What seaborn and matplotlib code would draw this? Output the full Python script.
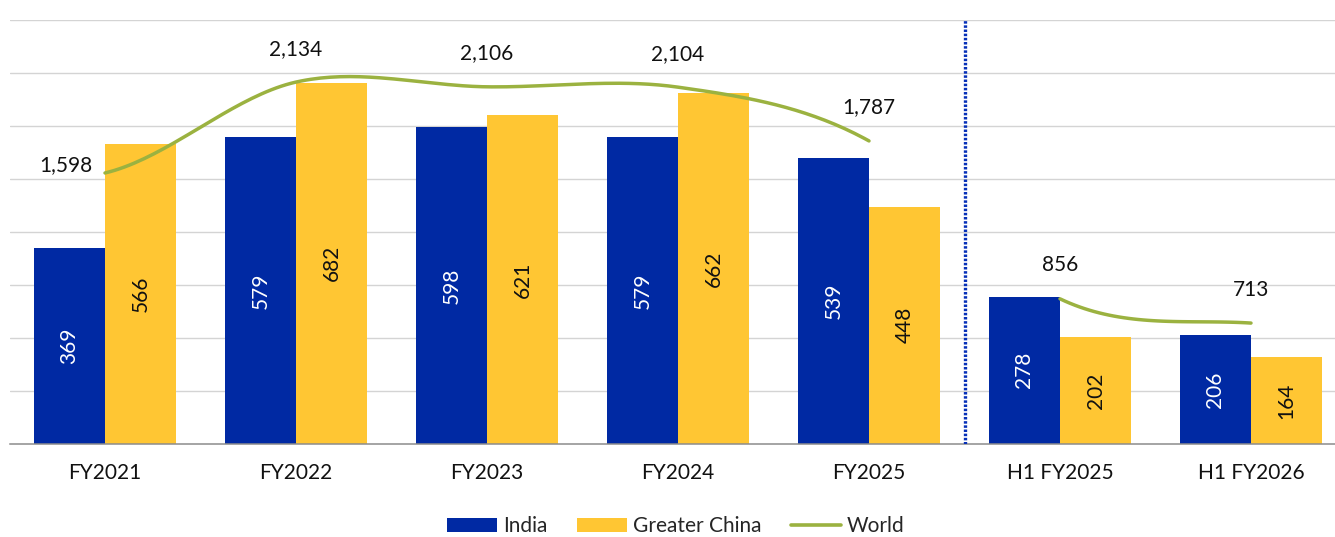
import numpy as np
import pandas as pd
import matplotlib
matplotlib.use("Agg")
import matplotlib.pyplot as plt
from matplotlib.patches import Patch
from matplotlib.lines import Line2D
import seaborn as sns

# ---- data ----
periods = ["FY2021", "FY2022", "FY2023", "FY2024", "FY2025", "H1 FY2025", "H1 FY2026"]
india = [369, 579, 598, 579, 539, 278, 206]
greater_china = [566, 682, 621, 662, 448, 202, 164]
world = [1598, 2134, 2106, 2104, 1787, 856, 713]
# world line is drawn in two runs: full years, then half years
world_runs = [(0, 4), (5, 6)]

BLUE = "#0029A3"
YELLOW = "#FFC633"
GREEN = "#9BB240"
GRID = "#D4D4D4"
AXIS = "#8C8C8C"

sns.set_style("white")
plt.rcParams["font.family"] = ["Lato", "DejaVu Sans"]
plt.rcParams["ytick.left"] = False
plt.rcParams["ytick.right"] = False
FS = 15

df = pd.DataFrame({
    "period": periods * 2,
    "units": india + greater_china,
    "region": ["India"] * len(periods) + ["Greater China"] * len(periods),
})

fig = plt.figure(figsize=(13.35, 5.37), dpi=100)
W, H = 1335, 537
ax = fig.add_axes([9.5 / W, 93 / H, 1337 / W, 424 / H])

sns.barplot(data=df, x="period", y="units", hue="region", order=periods,
            hue_order=["India", "Greater China"],
            palette=[BLUE, YELLOW], saturation=1, width=0.745,
            dodge=True, linewidth=0, legend=False, ax=ax, zorder=2)

# world line on a secondary scale
ax2 = ax.twinx()
ax2.set_ylim(0, 2500)
ax2.axis("off")

ax.set_ylim(0, 800)
ax.set_xlim(-0.5, len(periods) - 0.5)
ax.set_yticks(np.arange(100, 801, 100))
ax.yaxis.grid(True, color=GRID, linewidth=1.0, zorder=0)
ax.set_axisbelow(True)
ax.tick_params(axis="y", which="both", left=False, right=False,
               labelleft=False, labelright=False, length=0)
ax.set_xlabel("")
ax.set_ylabel("")
for s in ["left", "top", "right"]:
    ax.spines[s].set_visible(False)
ax.spines["bottom"].set_color(AXIS)
ax.spines["bottom"].set_linewidth(1.1)

ax.set_xticks(range(len(periods)))
ax.set_xticklabels(periods, fontsize=FS, color="#111111")
ax.tick_params(axis="x", which="major", length=0, pad=14)
ax.set_xticks(np.arange(-0.5, len(periods), 1.0), minor=True)
ax.tick_params(axis="x", which="minor", length=5, width=1.1, color=AXIS, direction="out")

# values inside the bars
label_colors = ["white", "#111111"]
for cont, col in zip(ax.containers, label_colors):
    ax.bar_label(cont, labels=[f"{int(v.get_height())}" for v in cont],
                 label_type="center", rotation=90, color=col, fontsize=FS)

# separator between full years and half years
ax.axvline(4.5, color="#0630B8", linewidth=2.4, linestyle=(0, (0.75, 0.5)), zorder=3)

# smoothed world curve built from Bezier segments (Catmull-Rom control points)
pts = np.array(world, dtype=float)
n = len(pts)

def seg_curve(i, steps=40):
    p0 = pts[max(i - 1, 0)]
    p1 = pts[i]
    p2 = pts[i + 1]
    p3 = pts[min(i + 2, n - 1)]
    c1 = p1 + (p2 - p0) / 6.0
    c2 = p2 - (p3 - p1) / 6.0
    t = np.linspace(0, 1, steps)
    y = ((1 - t) ** 3) * p1 + 3 * ((1 - t) ** 2) * t * c1 + 3 * (1 - t) * t ** 2 * c2 + t ** 3 * p2
    x = i + t
    return x, y

for a, b in world_runs:
    xs, ys = [], []
    for i in range(a, b):
        x, y = seg_curve(i)
        xs.append(x)
        ys.append(y)
    ax2.plot(np.concatenate(xs), np.concatenate(ys), color=GREEN, linewidth=2.5,
             solid_capstyle="round", zorder=4)

for i, v in enumerate(world):
    if i == 0:
        ax2.annotate(f"{v:,}", (i, v), xytext=(-9, 6), textcoords="offset points",
                     ha="right", va="center", fontsize=FS, color="#111111")
    else:
        ax2.annotate(f"{v:,}", (i, v), xytext=(0, 24), textcoords="offset points",
                     ha="center", va="center", fontsize=FS, color="#111111")

handles = [
    Patch(facecolor=BLUE, edgecolor="none", label="India"),
    Patch(facecolor=YELLOW, edgecolor="none", label="Greater China"),
    Line2D([0], [0], color=GREEN, linewidth=2.6, label="World"),
]
fig.legend(handles=handles, loc="center", bbox_to_anchor=(676 / W, 1 - 526 / H),
           ncol=3, frameon=False, fontsize=FS, handlelength=2.4, handleheight=0.65,
           handletextpad=0.3, columnspacing=1.4)

fig.savefig("out.png", dpi=100)
